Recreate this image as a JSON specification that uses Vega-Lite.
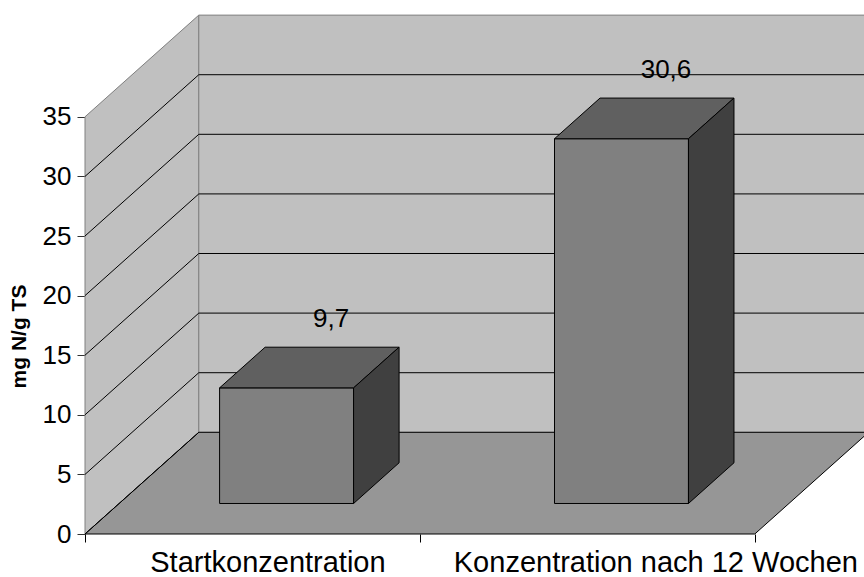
{
  "$schema": "https://vega.github.io/schema/vega-lite/v6.json",
  "width": 779,
  "height": 534,
  "autosize": {"type": "none"},
  "padding": {"left": 85, "top": 0, "right": 0, "bottom": 43},
  "background": "white",
  "config": {"view": {"stroke": null}, "font": "Liberation Sans"},
  "datasets": {
    "bars": [
      {"category": "Startkonzentration", "value": 9.7},
      {"category": "Konzentration nach 12 Wochen", "value": 30.6}
    ],
    "levels": [{"v": 0}, {"v": 5}, {"v": 10}, {"v": 15}, {"v": 20}, {"v": 25}, {"v": 30}, {"v": 35}],
    "depth": [{"d": 0}, {"d": 1}]
  },
  "layer": [
    {
      "data": {"name": "depth"},
      "transform": [
        {"calculate": "datum.d*0.3398", "as": "X"},
        {"calculate": "datum.d*8.532", "as": "lo"},
        {"calculate": "35+datum.d*8.532", "as": "hi"}
      ],
      "mark": {"type": "area", "fill": "#C0C0C0", "stroke": "#808080", "strokeWidth": 1, "orient": "vertical"},
      "encoding": {
        "x": {
          "field": "X", "type": "quantitative",
          "scale": {"domain": [0, 2.3261], "nice": false, "zero": false},
          "axis": {
            "values": [0, 0.5, 1, 1.5, 2],
            "title": null, "grid": false, "domain": false,
            "tickSize": 8, "tickColor": "black", "tickWidth": 1,
            "tickOpacity": {"condition": {"test": "datum.value==0.5||datum.value==1.5", "value": 0}, "value": 1},
            "labelExpr": "datum.value==0.5?'Startkonzentration':datum.value==1.5?'Konzentration nach 12 Wochen':''",
            "labelFontSize": 29, "labelColor": "black", "labelPadding": 6, "labelLimit": 1000,
            "labelOffset": {"condition": {"test": "datum.value==1.5", "value": 68}, "value": 15},
            "labelOverlap": false, "labelBound": false, "labelFlush": false
          }
        },
        "y": {
          "field": "lo", "type": "quantitative",
          "scale": {"domain": [0, 44.8], "nice": false, "zero": false},
          "axis": {
            "values": [0, 5, 10, 15, 20, 25, 30, 35],
            "title": "mg N/g TS", "titleFontSize": 21, "titleFontWeight": "bold", "titleColor": "black",
            "titleX": -66, "titleY": 336, "titleAngle": -90, "titleBaseline": "middle", "titleAlign": "center",
            "grid": false, "domain": false,
            "tickSize": 8, "tickColor": "#333333",
            "labelFontSize": 26, "labelColor": "black", "labelPadding": 6,
            "labelOverlap": false, "labelBound": false, "labelFlush": false
          }
        },
        "y2": {"field": "hi"}
      }
    },
    {
      "data": {"values": [{}]},
      "mark": {"type": "rect", "fill": "#C0C0C0", "stroke": "#808080", "strokeWidth": 1},
      "encoding": {
        "x": {"datum": 0.3398, "type": "quantitative"},
        "x2": {"datum": 2.3398},
        "y": {"datum": 8.532, "type": "quantitative"},
        "y2": {"datum": 43.532}
      }
    },
    {
      "data": {"name": "depth"},
      "transform": [
        {"calculate": "datum.d*8.532", "as": "Y"},
        {"calculate": "datum.d*0.3398", "as": "xa"},
        {"calculate": "2+datum.d*0.3398", "as": "xb"}
      ],
      "mark": {"type": "area", "fill": "#969696", "stroke": "black", "strokeWidth": 1, "orient": "horizontal"},
      "encoding": {
        "y": {"field": "Y", "type": "quantitative"},
        "x": {"field": "xa", "type": "quantitative"},
        "x2": {"field": "xb"}
      }
    },
    {
      "data": {"name": "levels"},
      "transform": [
        {"filter": "datum.v < 35"},
        {"calculate": "datum.v+8.532", "as": "v2"}
      ],
      "mark": {"type": "rule", "color": "black", "strokeWidth": 1},
      "encoding": {
        "x": {"datum": 0, "type": "quantitative"},
        "x2": {"datum": 0.3398},
        "y": {"field": "v", "type": "quantitative"},
        "y2": {"field": "v2"}
      }
    },
    {
      "data": {"name": "levels"},
      "transform": [
        {"filter": "datum.v > 0 && datum.v < 35"},
        {"calculate": "datum.v+8.532", "as": "Yb"}
      ],
      "mark": {"type": "rule", "color": "black", "strokeWidth": 1},
      "encoding": {
        "x": {"datum": 0.3398, "type": "quantitative"},
        "x2": {"datum": 2.3398},
        "y": {"field": "Yb", "type": "quantitative"}
      }
    },
    {
      "data": {"name": "bars"},
      "transform": [
        {"window": [{"op": "row_number", "as": "n"}]},
        {"calculate": "datum.n-1+0.3+0.3*0.3398", "as": "fx0"},
        {"calculate": "datum.n-1+0.7+0.3*0.3398", "as": "fx1"},
        {"calculate": "0.3*8.532", "as": "fy0"},
        {"calculate": "datum.value+0.3*8.532", "as": "fy1"}
      ],
      "mark": {"type": "rect", "fill": "#808080", "stroke": "black", "strokeWidth": 1},
      "encoding": {
        "x": {"field": "fx0", "type": "quantitative"},
        "x2": {"field": "fx1"},
        "y": {"field": "fy0", "type": "quantitative"},
        "y2": {"field": "fy1"}
      }
    },
    {
      "data": {"name": "bars"},
      "transform": [
        {"window": [{"op": "row_number", "as": "n"}]},
        {"calculate": "[0.3, 0.7]", "as": "dd"},
        {"flatten": ["dd"]},
        {"calculate": "datum.value+datum.dd*8.532", "as": "Y"},
        {"calculate": "datum.n-1+0.3+datum.dd*0.3398", "as": "xa"},
        {"calculate": "datum.n-1+0.7+datum.dd*0.3398", "as": "xb"}
      ],
      "mark": {"type": "area", "fill": "#606060", "stroke": "black", "strokeWidth": 1, "orient": "horizontal"},
      "encoding": {
        "y": {"field": "Y", "type": "quantitative"},
        "x": {"field": "xa", "type": "quantitative"},
        "x2": {"field": "xb"},
        "detail": {"field": "category"}
      }
    },
    {
      "data": {"name": "bars"},
      "transform": [
        {"window": [{"op": "row_number", "as": "n"}]},
        {"calculate": "[0.3, 0.7]", "as": "dd"},
        {"flatten": ["dd"]},
        {"calculate": "datum.n-1+0.7+datum.dd*0.3398", "as": "X"},
        {"calculate": "datum.dd*8.532", "as": "lo"},
        {"calculate": "datum.value+datum.dd*8.532", "as": "hi"}
      ],
      "mark": {"type": "area", "fill": "#404040", "stroke": "black", "strokeWidth": 1, "orient": "vertical"},
      "encoding": {
        "x": {"field": "X", "type": "quantitative"},
        "y": {"field": "lo", "type": "quantitative"},
        "y2": {"field": "hi"},
        "detail": {"field": "category"}
      }
    },
    {
      "data": {"name": "bars"},
      "transform": [
        {"window": [{"op": "row_number", "as": "n"}]},
        {"calculate": "datum.n-1+0.5+0.7*0.3398", "as": "LX"},
        {"calculate": "datum.value+0.7*8.532", "as": "LY"},
        {"calculate": "replace(format(datum.value, '.1f'), '.', ',')", "as": "lab"}
      ],
      "mark": {"type": "text", "fontSize": 26, "color": "black", "align": "center", "baseline": "alphabetic", "dy": -20, "dx": -1},
      "encoding": {
        "x": {"field": "LX", "type": "quantitative"},
        "y": {"field": "LY", "type": "quantitative"},
        "text": {"field": "lab"}
      }
    }
  ]
}
